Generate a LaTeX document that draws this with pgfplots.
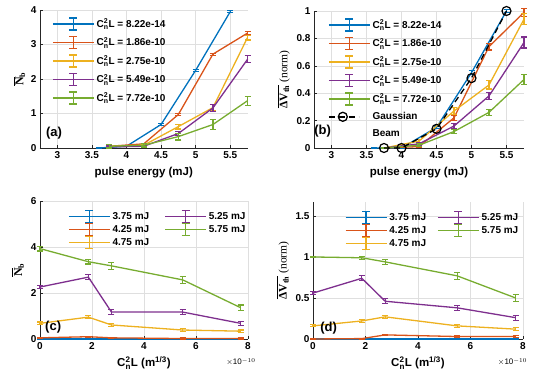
\documentclass[border=0pt]{standalone}
\usepackage{fontspec}
\setmainfont{Liberation Sans}
\newfontfamily\serif{Liberation Serif}
\usepackage{amsmath}
\usepackage{pgfplots}
\pgfplotsset{compat=1.18}
\definecolor{cBlue}{rgb}{0,0.447,0.741}
\definecolor{cOrange}{rgb}{0.85,0.325,0.098}
\definecolor{cYellow}{rgb}{0.929,0.694,0.125}
\definecolor{cPurple}{rgb}{0.494,0.184,0.556}
\definecolor{cGreen}{rgb}{0.466,0.674,0.188}
\definecolor{axgray}{rgb}{0.15,0.15,0.15}
\newcommand{\CnL}{C$^{\text{2}}_{\text{n}}$L}
\tikzset{plab/.style={anchor=west, font=\bfseries\fontsize{13}{14}\selectfont}}
\pgfplotsset{
 panel/.style={
  scale only axis,
  axis x line*=bottom, axis y line*=left,
  axis line style={axgray, line width=0.5pt, -},
  tick align=inside, major tick length=3pt,
  tick style={axgray, line width=0.5pt},
  grid=major, major grid style={line width=0.4pt, color=gray!25},
  /pgf/number format/assume math mode=true,
  tick label style={font=\bfseries\fontsize{10}{12}\selectfont, text=black},
  label style={font=\bfseries\fontsize{11.5}{13}\selectfont},
  clip=false,
  legend style={draw=none, fill=none, font=\bfseries\fontsize{10}{11}\selectfont, inner sep=0pt, outer sep=0pt},
  legend cell align=left,
 },
 eb/.style={line width=1.3pt, mark=none,
  /pgfplots/error bars/y dir=both, /pgfplots/error bars/y explicit,
  /pgfplots/error bars/error bar style={line width=1.2pt, solid},
  /pgfplots/error bars/error mark options={line width=1.2pt, mark size=3pt, rotate=90, solid}},
 ebleg/.style={legend image code/.code={
  \path[draw=none, fill=none] (0pt,-6pt) rectangle (41pt,6pt);
  \draw[line width=1.5pt,color=#1,solid] (0pt,0pt) -- (41pt,0pt);
  \draw[line width=1.4pt,color=#1,solid] (20.5pt,-6pt) -- (20.5pt,6pt) (16.5pt,-6pt) -- (24.5pt,-6pt) (16.5pt,6pt) -- (24.5pt,6pt);
 }},
 gleg/.style={legend image code/.code={
  \path[draw=none, fill=none] (0pt,-6pt) rectangle (41pt,6pt);
  \draw[line width=1.5pt,color=black,dash pattern=on 6pt off 4pt] (0pt,0pt) -- (30pt,0pt);
  \draw[line width=1.3pt,color=black,solid] (14pt,0pt) circle (4.5pt);
 }},
 nolegimg/.style={legend image code/.code={
  \path[draw=none, fill=none] (0pt,-3pt) rectangle (41pt,3pt);
 }},
}
\begin{document}
\begin{tikzpicture}
\path[use as bounding box] (0,0) rectangle (533pt,379pt);
% ---------------- (a)
\begin{axis}[panel, at={(40pt,231pt)}, anchor=south west, width=207.5pt, height=138pt,
 xmin=2.75, xmax=5.75, ymin=0, ymax=4,
 xtick={3,3.5,4,4.5,5,5.5}, ytick={0,1,2,3,4},
 xlabel={pulse energy (mJ)},
 xlabel style={at={(axis description cs:0.5,-0.181)}, anchor=center},
 ylabel={{\serif\fontsize{12}{12}\selectfont$\overline{\text{N}}_{\text{b}}$}},
 ylabel style={at={(axis description cs:-0.1,0.5)}, anchor=center},
 legend style={at={(axis description cs:0.058,0.95)}, anchor=north west, row sep=4.5pt}]
\addplot[cBlue, eb, forget plot] table[x=x, y=y, y error=e] {
x y e
3.6 0 0.01
4.0 0.05 0.01
4.5 0.68 0.03
5.0 2.25 0.03
5.5 3.95 0.03
};
\addplot[cOrange, eb, forget plot] table[x=x, y=y, y error=e] {
x y e
3.75 0.05 0.02
4.25 0.12 0.02
4.75 0.97 0.03
5.25 2.72 0.03
5.75 3.33 0.04
};
\addplot[cYellow, eb, forget plot] table[x=x, y=y, y error=e] {
x y e
3.75 0.05 0.03
4.25 0.08 0.03
4.75 0.62 0.07
5.25 1.17 0.08
5.75 3.2 0.07
};
\addplot[cPurple, eb, forget plot] table[x=x, y=y, y error=e] {
x y e
3.75 0.03 0.03
4.25 0.05 0.03
4.75 0.42 0.06
5.25 1.16 0.1
5.75 2.57 0.1
};
\addplot[cGreen, eb, forget plot] table[x=x, y=y, y error=e] {
x y e
3.75 0.05 0.05
4.25 0.08 0.05
4.75 0.33 0.1
5.25 0.68 0.15
5.75 1.37 0.13
};
\addlegendimage{ebleg=cBlue}\addlegendentry{\CnL{} = 8.22e-14}
\addlegendimage{ebleg=cOrange}\addlegendentry{\CnL{} = 1.86e-10}
\addlegendimage{ebleg=cYellow}\addlegendentry{\CnL{} = 2.75e-10}
\addlegendimage{ebleg=cPurple}\addlegendentry{\CnL{} = 5.49e-10}
\addlegendimage{ebleg=cGreen}\addlegendentry{\CnL{} = 7.72e-10}
\node[plab] at (axis description cs:0.012,0.11) {(a)};
\end{axis}
% ---------------- (b)
\begin{axis}[panel, at={(314pt,231pt)}, anchor=south west, width=210pt, height=137pt,
 xmin=2.75, xmax=5.75, ymin=0, ymax=1,
 xtick={3,3.5,4,4.5,5,5.5}, ytick={0,0.2,0.4,0.6,0.8,1},
 xlabel={pulse energy (mJ)},
 xlabel style={at={(axis description cs:0.5,-0.182)}, anchor=center},
 ylabel={{\serif\fontsize{11.5}{12}\selectfont$\overline{\text{ΔV}_{\text{th}}}$ \mdseries(norm)}},
 ylabel style={at={(axis description cs:-0.145,0.5)}, anchor=center},
 legend style={at={(axis description cs:0.067,0.95)}, anchor=north west, row sep=4.5pt}]
\addplot[cBlue, eb, forget plot] table[x=x, y=y, y error=e] {
x y e
3.6 0 0.005
4.0 0.0 0.005
4.5 0.15 0.01
5.0 0.55 0.015
5.5 1.0 0.01
};
\addplot[cOrange, eb, forget plot] table[x=x, y=y, y error=e] {
x y e
3.75 0 0.005
4.25 0.01 0.005
4.75 0.22 0.02
5.25 0.74 0.025
5.75 0.99 0.03
};
\addplot[cYellow, eb, forget plot] table[x=x, y=y, y error=e] {
x y e
3.75 0 0.005
4.25 0.05 0.01
4.75 0.27 0.025
5.25 0.46 0.03
5.75 0.94 0.04
};
\addplot[cPurple, eb, forget plot] table[x=x, y=y, y error=e] {
x y e
3.75 0 0.005
4.25 0.03 0.01
4.75 0.16 0.02
5.25 0.38 0.025
5.75 0.77 0.04
};
\addplot[cGreen, eb, forget plot] table[x=x, y=y, y error=e] {
x y e
3.75 0 0.005
4.25 0.02 0.01
4.75 0.12 0.015
5.25 0.26 0.02
5.75 0.50 0.035
};
\addplot[black, line width=1.3pt, dash pattern=on 6pt off 4pt, mark=o, mark size=4.5pt, mark options={solid, line width=1.2pt}, forget plot] table[x=x, y=y] {
x y
3.75 0
4.0 0
4.5 0.14
5.0 0.51
5.5 1.0
};
\addlegendimage{ebleg=cBlue}\addlegendentry{\CnL{} = 8.22e-14}
\addlegendimage{ebleg=cOrange}\addlegendentry{\CnL{} = 1.86e-10}
\addlegendimage{ebleg=cYellow}\addlegendentry{\CnL{} = 2.75e-10}
\addlegendimage{ebleg=cPurple}\addlegendentry{\CnL{} = 5.49e-10}
\addlegendimage{ebleg=cGreen}\addlegendentry{\CnL{} = 7.72e-10}
\addlegendimage{gleg}\addlegendentry{Gaussian}
\addlegendimage{nolegimg}\addlegendentry{Beam}
\node[plab] at (axis description cs:-0.015,0.12) {(b)};
\end{axis}
% ---------------- (c)
\begin{axis}[panel, at={(40pt,40pt)}, anchor=south west, width=208pt, height=138pt,
 xmin=0, xmax=8, ymin=0, ymax=6,
 xtick={0,2,4,6,8}, ytick={0,2,4,6},
 xlabel={\CnL{} (m$^{\text{1/3}}$)},
 xlabel style={at={(axis description cs:0.5,-0.174)}, anchor=center},
 ylabel={{\serif\fontsize{12}{12}\selectfont$\overline{\text{N}}_{\text{b}}$}},
 ylabel style={at={(axis description cs:-0.106,0.5)}, anchor=center},
 legend columns=2,
 legend style={at={(axis description cs:0.135,0.935)}, anchor=north west, row sep=-0.5pt,
   /tikz/every even column/.append style={column sep=13pt}}]
\addplot[cBlue, eb, forget plot] table[x=x, y=y, y error=e] {
x y e
0.00082 0 0.01
1.86 0 0.01
2.75 0 0.01
5.49 0 0.01
7.72 0 0.01
};
\addplot[cOrange, eb, forget plot] table[x=x, y=y, y error=e] {
x y e
0.00082 0.05 0.02
1.86 0.1 0.02
2.75 0.05 0.02
5.49 0.02 0.02
7.72 0.02 0.02
};
\addplot[cYellow, eb, forget plot] table[x=x, y=y, y error=e] {
x y e
0.00082 0.68 0.06
1.86 0.95 0.07
2.75 0.61 0.06
5.49 0.39 0.05
7.72 0.34 0.05
};
\addplot[cPurple, eb, forget plot] table[x=x, y=y, y error=e] {
x y e
0.00082 2.26 0.08
1.86 2.69 0.12
2.75 1.17 0.1
5.49 1.17 0.1
7.72 0.68 0.08
};
\addplot[cGreen, eb, forget plot] table[x=x, y=y, y error=e] {
x y e
0.00082 3.93 0.1
1.86 3.36 0.1
2.75 3.18 0.15
5.49 2.57 0.15
7.72 1.36 0.12
};
\addlegendimage{ebleg=cBlue}\addlegendentry{3.75 mJ}
\addlegendimage{ebleg=cPurple}\addlegendentry{5.25 mJ}
\addlegendimage{ebleg=cOrange}\addlegendentry{4.25 mJ}
\addlegendimage{ebleg=cGreen}\addlegendentry{5.75 mJ}
\addlegendimage{ebleg=cYellow}\addlegendentry{4.75 mJ}
\node[plab] at (axis description cs:0.008,0.087) {(c)};
\node[font=\fontsize{8}{9}\selectfont] at (axis description cs:0.966,-0.167) {$\times$10$^{-10}$};
\end{axis}
% ---------------- (d)
\begin{axis}[panel, at={(313pt,40pt)}, anchor=south west, width=210pt, height=137pt,
 xmin=0, xmax=8, ymin=0, ymax=1.67,
 xtick={0,2,4,6,8}, ytick={0,0.5,1,1.5},
 xlabel={\CnL{} (m$^{\text{1/3}}$)},
 xlabel style={at={(axis description cs:0.5,-0.175)}, anchor=center},
 ylabel={{\serif\fontsize{11.5}{12}\selectfont$\overline{\text{ΔV}_{\text{th}}}$ \mdseries(norm)}},
 ylabel style={at={(axis description cs:-0.143,0.5)}, anchor=center},
 legend columns=2,
 legend style={at={(axis description cs:0.152,0.935)}, anchor=north west, row sep=-0.5pt,
   /tikz/every even column/.append style={column sep=9pt}}]
\addplot[cBlue, eb, forget plot] table[x=x, y=y, y error=e] {
x y e
0.00082 0 0.003
1.86 0 0.003
2.75 0 0.003
5.49 0 0.003
7.72 0 0.003
};
\addplot[cOrange, eb, forget plot] table[x=x, y=y, y error=e] {
x y e
0.00082 0 0.005
1.86 0.005 0.005
2.75 0.05 0.008
5.49 0.03 0.008
7.72 0.03 0.008
};
\addplot[cYellow, eb, forget plot] table[x=x, y=y, y error=e] {
x y e
0.00082 0.16 0.012
1.86 0.22 0.015
2.75 0.27 0.02
5.49 0.16 0.02
7.72 0.12 0.02
};
\addplot[cPurple, eb, forget plot] table[x=x, y=y, y error=e] {
x y e
0.00082 0.56 0.015
1.86 0.74 0.03
2.75 0.46 0.03
5.49 0.38 0.03
7.72 0.26 0.03
};
\addplot[cGreen, eb, forget plot] table[x=x, y=y, y error=e] {
x y e
0.00082 1.0 0.01
1.86 0.99 0.02
2.75 0.94 0.03
5.49 0.77 0.04
7.72 0.50 0.04
};
\addlegendimage{ebleg=cBlue}\addlegendentry{3.75 mJ}
\addlegendimage{ebleg=cPurple}\addlegendentry{5.25 mJ}
\addlegendimage{ebleg=cOrange}\addlegendentry{4.25 mJ}
\addlegendimage{ebleg=cGreen}\addlegendentry{5.75 mJ}
\addlegendimage{ebleg=cYellow}\addlegendentry{4.75 mJ}
\node[plab] at (axis description cs:0.018,0.08) {(d)};
\node[font=\fontsize{8}{9}\selectfont] at (axis description cs:0.95,-0.168) {$\times$10$^{-10}$};
\end{axis}
\end{tikzpicture}
\end{document}
